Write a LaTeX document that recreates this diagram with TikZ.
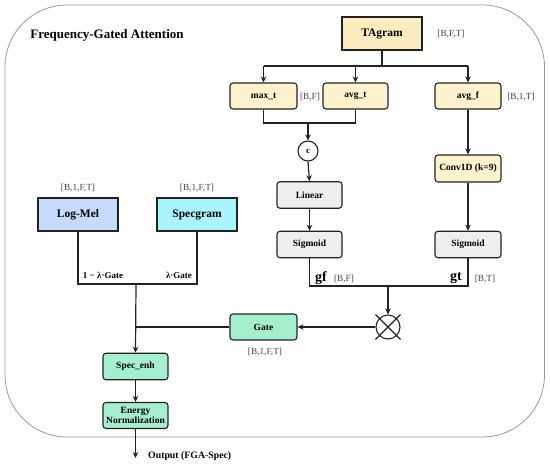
\documentclass[tikz,border=0pt]{standalone}
\usepackage{fontspec}
\setmainfont{Liberation Serif}
\usetikzlibrary{arrows.meta,shapes.misc}
\definecolor{yel}{HTML}{FFF2CC}
\definecolor{yelT}{HTML}{FBEDBF}
\definecolor{blu}{HTML}{C6DBFF}
\definecolor{cya}{HTML}{A8F4FF}
\definecolor{grn}{HTML}{A5EFCF}
\definecolor{gry}{HTML}{EFEFF1}
\definecolor{ln}{HTML}{222222}
\definecolor{dimtxt}{HTML}{444444}
\tikzset{
  box/.style={draw=ln, line width=1.1pt, rounded corners=3pt, inner sep=1pt, align=center,
    font=\fontsize{9.5}{10.5}\selectfont\bfseries, text=black},
  ybox/.style={box, fill=yel, minimum width=66pt, minimum height=26pt},
  gbox/.style={box, fill=gry, minimum width=65pt, minimum height=26.5pt},
  grbox/.style={box, fill=grn, minimum width=65pt, minimum height=26.5pt},
  bigbox/.style={draw=ln, line width=1.1pt, inner sep=1pt, minimum width=80pt, minimum height=33pt,
    font=\fontsize{11.5}{13}\selectfont\bfseries},
  dims/.style={font=\fontsize{9.3}{11}\selectfont, text=dimtxt, inner sep=0pt},
  lbl/.style={font=\fontsize{9}{11}\selectfont\bfseries, inner sep=0pt},
  conn/.style={draw=ln, line width=1.2pt},
  arr/.style={conn, -{Stealth[length=6pt,width=5.5pt]}},
}
\begin{document}
\begin{tikzpicture}[x=1pt,y=-1pt]
\useasboundingbox (0,0) rectangle (550,467);
% frame
\draw[draw=black!40, line width=0.8pt, rounded corners=62pt] (5,5) rectangle (544.5,437);
\node[font=\fontsize{13}{15}\selectfont\bfseries, inner sep=0pt] (title) at (107,35) {Frequency-Gated Attention};

% top branch
\node[bigbox, fill=yelT] (tag) at (382,33.5) {TAgram};
\node[dims] (dTag) at (451,34) {[B,F,T]};
\node[ybox, minimum width=67pt] (maxt) at (263.5,96) {max\_t};
\node[ybox, minimum width=65pt] (avgt) at (355.5,96) {avg\_t};
\node[ybox] (avgf) at (468,96) {avg\_f};
\node[dims] (dF1) at (310,97) {[B,F]};
\node[dims] (dB1T) at (521,97) {[B,1,T]};
\node[circle, draw=ln, line width=1.1pt, minimum size=20pt, inner sep=0pt,
      font=\fontsize{9}{10}\selectfont\bfseries] (cat) at (308,151) {c};
\node[gbox] (lin) at (309.5,195) {Linear};
\node[gbox] (sigl) at (309.5,244.5) {Sigmoid};
\node[ybox, minimum height=27pt] (conv) at (468,168.5) {Conv1D (k=9)};
\node[gbox, minimum width=66pt] (sigr) at (468,244.5) {Sigmoid};
\node[font=\fontsize{14}{16}\selectfont\bfseries, inner sep=0pt] (gf) at (321,278) {gf};
\node[dims] (dgf) at (344,279) {[B,F]};
\node[font=\fontsize{14}{16}\selectfont\bfseries, inner sep=0pt] (gt) at (456,278) {gt};
\node[dims] (dgt) at (485,279) {[B,T]};
\node[draw=ln, line width=1.1pt, fill=white, circle, cross out, minimum size=24pt, inner sep=0pt] (mulc) at (388,327) {};
\node[draw=ln, line width=1.1pt, circle, minimum size=24pt, inner sep=0pt] (mul) at (388,327) {};
\node[grbox, minimum width=67pt, minimum height=26pt] (gate) at (263.5,327) {Gate};
\node[dims] (dgate) at (265,352) {[B,1,F,T]};

% left branch
\node[bigbox, fill=blu] (mel) at (78,214.5) {Log-Mel};
\node[bigbox, fill=cya] (spec) at (197,214.5) {Specgram};
\node[dims] (dmel) at (78,188) {[B,1,F,T]};
\node[dims] (dspec) at (197,188) {[B,1,F,T]};
\node[lbl] (l1) at (103,275) {1 − λ·Gate};
\node[lbl] (l2) at (179,275) {λ·Gate};
\node[grbox] (enh) at (135.5,366.5) {Spec\_enh};
\node[grbox, minimum height=26pt] (en) at (135.5,415.5) {Energy\\Normalization};
\node[lbl, font=\fontsize{9.8}{11}\selectfont\bfseries, anchor=west] (outl) at (148,456) {Output (FGA-Spec)};

% coordinates
\coordinate (t1) at (382,66);
\coordinate (m1) at (308,123);
\coordinate (j1) at (388,286);
\coordinate (j2) at (136,284);
\coordinate (gj) at (136,327);
\coordinate (out) at (135.5,458);

% connectors
\draw[conn] (tag.south) -- (t1);
\draw[conn] (maxt.north |- t1) -- (avgf.north |- t1);
\draw[arr] (maxt.north |- t1) -- (maxt.north);
\draw[arr] (avgt.north |- t1) -- (avgt.north);
\draw[arr] (avgf.north |- t1) -- (avgf.north);
\draw[conn] (maxt.south) |- (m1);
\draw[conn] (avgt.south) |- (m1);
\draw[arr] (m1) -- (cat.north);
\draw[arr] (cat.south) -- (lin.north);
\draw[arr] (lin.south) -- (sigl.north);
\draw[arr] (avgf.south) -- (conv.north);
\draw[arr] (conv.south) -- (sigr.north);
\draw[conn] (sigl.south) |- (j1);
\draw[conn] (sigr.south) |- (j1);
\draw[arr] (j1) -- (mul.north);
\draw[arr] (mul.west) -- (gate.east);
\draw[conn] (gate.west) -- (gj);
\draw[conn] (mel.south) |- (j2);
\draw[conn] (spec.south) |- (j2);
\draw[arr] (j2) -- (enh.north);
\draw[arr] (enh.south) -- (en.north);
\draw[arr] (en.south) -- (out);
\end{tikzpicture}
\end{document}
